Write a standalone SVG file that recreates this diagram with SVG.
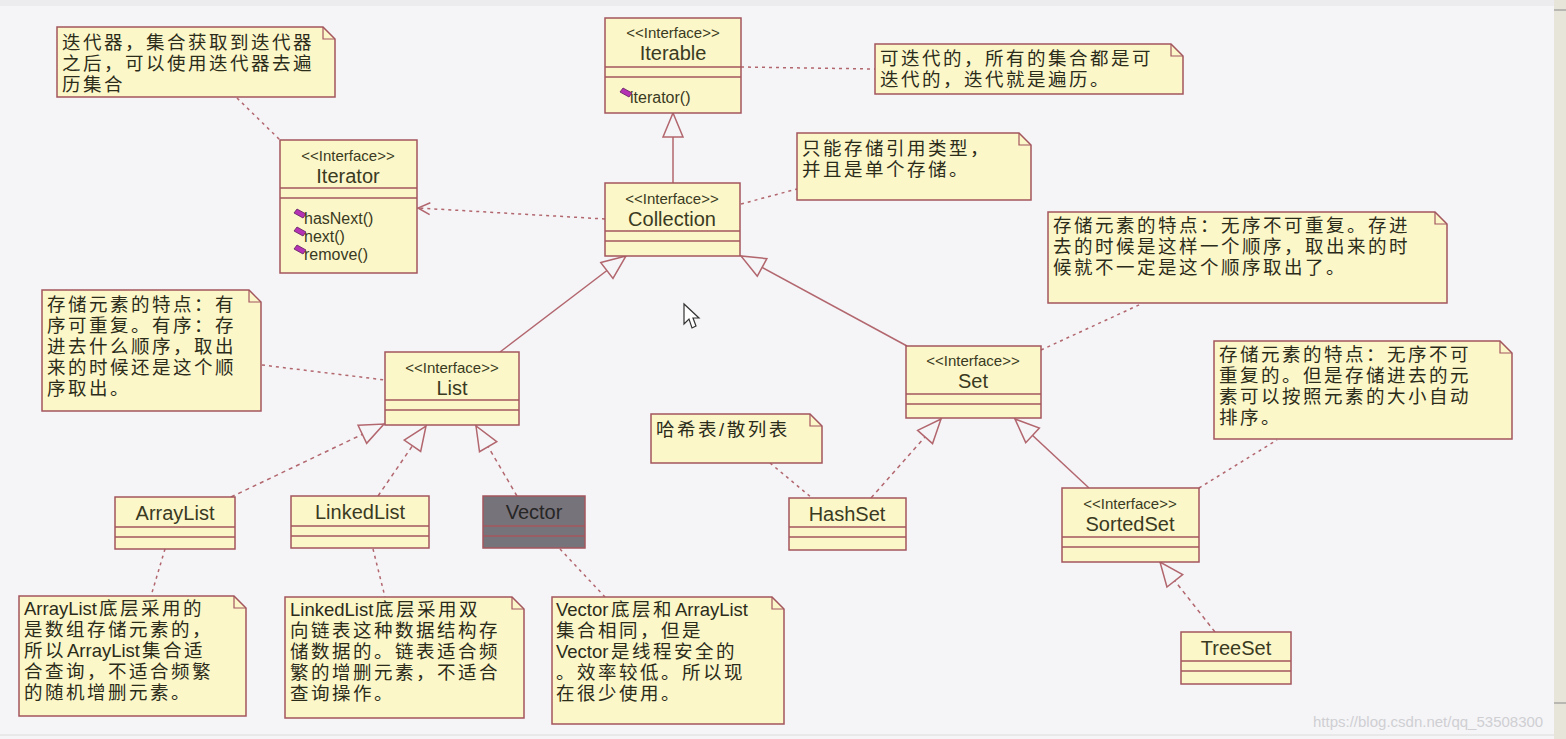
<svg xmlns="http://www.w3.org/2000/svg" width="1566" height="739" viewBox="0 0 1566 739">
<defs>
<style>
.box{fill:#fbf7c9;stroke:#a4565e;stroke-width:1.5}
.gray{fill:#77737a;stroke:#a4565e;stroke-width:1.5}
.sep{stroke:#a4565e;stroke-width:1.5;fill:none}
.note{fill:#fbf7c9;stroke:#a4565e;stroke-width:1.5}
.fold{fill:none;stroke:#a4565e;stroke-width:1.2}
.st{font-family:"Liberation Sans",Arial,sans-serif;font-size:15px;fill:#3a3a22;text-anchor:middle}
.nm{font-family:"Liberation Sans",Arial,sans-serif;font-size:20px;fill:#3a3a22;text-anchor:middle}
.mt{font-family:"Liberation Sans",Arial,sans-serif;font-size:16px;fill:#3a3a22}
.nt{font-family:"Liberation Sans","Noto Sans CJK SC",sans-serif;font-size:18.5px;letter-spacing:2.5px;fill:#2c2c1a}
.lt{font-family:"Liberation Sans","Noto Sans CJK SC",sans-serif;font-size:18.5px;letter-spacing:0;fill:#2c2c1a}
.solid{stroke:#b2666e;stroke-width:1.5;fill:none}
.dash{stroke:#b2666e;stroke-width:1.5;stroke-dasharray:4 4;fill:none}
.dot{stroke:#b2666e;stroke-width:1.5;stroke-dasharray:3 4;fill:none}
.icon{fill:#b532b5;stroke:#5e1e5e;stroke-width:0.8}
</style>
<marker id="tri" markerWidth="26" markerHeight="22" refX="25" refY="10" orient="auto" markerUnits="userSpaceOnUse" overflow="visible">
<path d="M1,0 L25,10 L1,20 Z" fill="#f5f5f7" stroke="#b2666e" stroke-width="1.5"/>
</marker>
<marker id="open" markerWidth="14" markerHeight="14" refX="13" refY="6" orient="auto" markerUnits="userSpaceOnUse" overflow="visible">
<path d="M1,0 L13,6 L1,12" fill="none" stroke="#b2666e" stroke-width="1.5"/>
</marker>
</defs>
<rect x="0" y="0" width="1566" height="739" fill="#f5f5f7"/>
<rect x="0" y="0" width="1566" height="6" fill="#ececee"/>
<rect x="1554" y="0" width="12" height="739" fill="#e7e4d9"/>
<line x1="1554" y1="10" x2="1566" y2="10" stroke="#8a8a8a" stroke-width="1"/>
<line x1="1554" y1="703" x2="1566" y2="703" stroke="#8a8a8a" stroke-width="1"/>
<line x1="0" y1="735" x2="1554" y2="735" stroke="#dcdcdc" stroke-width="1"/>

<g id="connectors">
<line class="solid" x1="673" y1="183" x2="673" y2="113" marker-end="url(#tri)"/>
<line class="dot" x1="605" y1="219" x2="418" y2="208" marker-end="url(#open)"/>
<line class="solid" x1="500" y1="352" x2="626" y2="256" marker-end="url(#tri)"/>
<line class="solid" x1="907" y1="346" x2="741" y2="256" marker-end="url(#tri)"/>
<line class="dash" x1="231" y1="497" x2="384" y2="424" marker-end="url(#tri)"/>
<line class="dash" x1="378" y1="496" x2="426" y2="426" marker-end="url(#tri)"/>
<line class="dash" x1="517" y1="496" x2="476" y2="426" marker-end="url(#tri)"/>
<line class="dash" x1="871" y1="498" x2="941" y2="419" marker-end="url(#tri)"/>
<line class="solid" x1="1089" y1="488" x2="1015" y2="419" marker-end="url(#tri)"/>
<line class="dash" x1="1215" y1="632" x2="1160" y2="562" marker-end="url(#tri)"/>
<line class="dot" x1="237" y1="98" x2="280" y2="140"/>
<line class="dot" x1="741" y1="67" x2="875" y2="69"/>
<line class="dot" x1="741" y1="204" x2="797" y2="189"/>
<line class="dot" x1="262" y1="365" x2="385" y2="380"/>
<line class="dot" x1="1041" y1="350" x2="1141" y2="304"/>
<line class="dot" x1="1199" y1="488" x2="1277" y2="440"/>
<line class="dot" x1="770" y1="463" x2="812" y2="498"/>
<line class="dot" x1="165" y1="549" x2="151" y2="596"/>
<line class="dot" x1="373" y1="549" x2="385" y2="597"/>
<line class="dot" x1="560" y1="549" x2="605" y2="597"/>
</g>

<g id="Iterable">
<rect class="box" x="605" y="18" width="136" height="95"/>
<line class="sep" x1="605" y1="67" x2="741" y2="67"/>
<line class="sep" x1="605" y1="77" x2="741" y2="77"/>
<text class="st" x="673" y="38">&lt;&lt;Interface&gt;&gt;</text>
<text class="nm" x="673" y="60">Iterable</text>
<polygon class="icon" points="620,92 623,88 632,93 629,97"/>
<text class="mt" x="630" y="103">iterator()</text>
</g>

<g id="Collection">
<rect class="box" x="605" y="183" width="135" height="73"/>
<line class="sep" x1="605" y1="231" x2="740" y2="231"/>
<line class="sep" x1="605" y1="241" x2="740" y2="241"/>
<text class="st" x="672" y="204">&lt;&lt;Interface&gt;&gt;</text>
<text class="nm" x="672" y="226">Collection</text>
</g>

<g id="Iterator">
<rect class="box" x="280" y="140" width="137" height="133"/>
<line class="sep" x1="280" y1="188" x2="417" y2="188"/>
<line class="sep" x1="280" y1="198" x2="417" y2="198"/>
<text class="st" x="348" y="161">&lt;&lt;Interface&gt;&gt;</text>
<text class="nm" x="348" y="183">Iterator</text>
<polygon class="icon" points="294,213 297,209 306,214 303,218"/>
<text class="mt" x="304" y="224">hasNext()</text>
<polygon class="icon" points="294,231 297,227 306,232 303,236"/>
<text class="mt" x="304" y="242">next()</text>
<polygon class="icon" points="294,249 297,245 306,250 303,254"/>
<text class="mt" x="304" y="260">remove()</text>
</g>

<g id="List">
<rect class="box" x="385" y="352" width="134" height="73"/>
<line class="sep" x1="385" y1="400" x2="519" y2="400"/>
<line class="sep" x1="385" y1="410" x2="519" y2="410"/>
<text class="st" x="452" y="373">&lt;&lt;Interface&gt;&gt;</text>
<text class="nm" x="452" y="395">List</text>
</g>

<g id="Set">
<rect class="box" x="906" y="346" width="135" height="72"/>
<line class="sep" x1="906" y1="394" x2="1041" y2="394"/>
<line class="sep" x1="906" y1="404" x2="1041" y2="404"/>
<text class="st" x="973" y="366">&lt;&lt;Interface&gt;&gt;</text>
<text class="nm" x="973" y="388">Set</text>
</g>

<g id="SortedSet">
<rect class="box" x="1062" y="488" width="137" height="74"/>
<line class="sep" x1="1062" y1="537" x2="1199" y2="537"/>
<line class="sep" x1="1062" y1="547" x2="1199" y2="547"/>
<text class="st" x="1130" y="509">&lt;&lt;Interface&gt;&gt;</text>
<text class="nm" x="1130" y="531">SortedSet</text>
</g>

<g id="ArrayList">
<rect class="box" x="115" y="497" width="120" height="52"/>
<line class="sep" x1="115" y1="527" x2="235" y2="527"/>
<line class="sep" x1="115" y1="537" x2="235" y2="537"/>
<text class="nm" x="175" y="520">ArrayList</text>
</g>

<g id="LinkedList">
<rect class="box" x="291" y="496" width="138" height="52"/>
<line class="sep" x1="291" y1="526" x2="429" y2="526"/>
<line class="sep" x1="291" y1="536" x2="429" y2="536"/>
<text class="nm" x="360" y="519">LinkedList</text>
</g>

<g id="Vector">
<rect class="gray" x="483" y="496" width="102" height="52"/>
<line class="sep" x1="483" y1="526" x2="585" y2="526"/>
<line class="sep" x1="483" y1="536" x2="585" y2="536"/>
<text class="nm" x="534" y="519" style="fill:#262626">Vector</text>
</g>

<g id="HashSet">
<rect class="box" x="789" y="498" width="117" height="52"/>
<line class="sep" x1="789" y1="527" x2="906" y2="527"/>
<line class="sep" x1="789" y1="537" x2="906" y2="537"/>
<text class="nm" x="847" y="521">HashSet</text>
</g>

<g id="TreeSet">
<rect class="box" x="1181" y="632" width="110" height="52"/>
<line class="sep" x1="1181" y1="661" x2="1291" y2="661"/>
<line class="sep" x1="1181" y1="671" x2="1291" y2="671"/>
<text class="nm" x="1236" y="655">TreeSet</text>
</g>

<g id="note-iterator">
<path class="note" d="M57,27 H323 L335,39 V97 H57 Z"/>
<path class="fold" d="M323,27 V39 H335"/>
<text class="nt" x="62" y="49">迭代器，集合获取到迭代器</text>
<text class="nt" x="62" y="70">之后，可以使用迭代器去遍</text>
<text class="nt" x="62" y="91">历集合</text>
</g>

<g id="note-iterable">
<path class="note" d="M875,44 H1171 L1183,56 V94 H875 Z"/>
<path class="fold" d="M1171,44 V56 H1183"/>
<text class="nt" x="880" y="65">可迭代的，所有的集合都是可</text>
<text class="nt" x="880" y="86">迭代的，迭代就是遍历。</text>
</g>

<g id="note-collection">
<path class="note" d="M797,133 H1019 L1031,145 V200 H797 Z"/>
<path class="fold" d="M1019,133 V145 H1031"/>
<text class="nt" x="802" y="155">只能存储引用类型，</text>
<text class="nt" x="802" y="176">并且是单个存储。</text>
</g>

<g id="note-set">
<path class="note" d="M1048,212 H1435 L1447,224 V303 H1048 Z"/>
<path class="fold" d="M1435,212 V224 H1447"/>
<text class="nt" x="1053" y="232">存储元素的特点：无序不可重复。存进</text>
<text class="nt" x="1053" y="253">去的时候是这样一个顺序，取出来的时</text>
<text class="nt" x="1053" y="274">候就不一定是这个顺序取出了。</text>
</g>

<g id="note-sortedset">
<path class="note" d="M1214,341 H1500 L1512,353 V439 H1214 Z"/>
<path class="fold" d="M1500,341 V353 H1512"/>
<text class="nt" x="1219" y="361">存储元素的特点：无序不可</text>
<text class="nt" x="1219" y="382">重复的。但是存储进去的元</text>
<text class="nt" x="1219" y="403">素可以按照元素的大小自动</text>
<text class="nt" x="1219" y="424">排序。</text>
</g>

<g id="note-list">
<path class="note" d="M42,290 H249 L261,302 V411 H42 Z"/>
<path class="fold" d="M249,290 V302 H261"/>
<text class="nt" x="47" y="311">存储元素的特点：有</text>
<text class="nt" x="47" y="332">序可重复。有序：存</text>
<text class="nt" x="47" y="353">进去什么顺序，取出</text>
<text class="nt" x="47" y="374">来的时候还是这个顺</text>
<text class="nt" x="47" y="395">序取出。</text>
</g>

<g id="note-hashset">
<path class="note" d="M651,414 H810 L822,426 V463 H651 Z"/>
<path class="fold" d="M810,414 V426 H822"/>
<text class="nt" x="656" y="436">哈希表/散列表</text>
</g>

<g id="note-arraylist">
<path class="note" d="M19,596 H234 L246,608 V716 H19 Z"/>
<path class="fold" d="M234,596 V608 H246"/>
<text class="lt" x="24" y="615">ArrayList</text>
<text class="nt" x="99" y="615">底层采用的</text>
<text class="nt" x="24" y="636">是数组存储元素的，</text>
<text class="nt" x="24" y="657">所以</text>
<text class="lt" x="67" y="657">ArrayList</text>
<text class="nt" x="142" y="657">集合适</text>
<text class="nt" x="24" y="678">合查询，不适合频繁</text>
<text class="nt" x="24" y="699">的随机增删元素。</text>
</g>

<g id="note-linkedlist">
<path class="note" d="M285,597 H512 L524,609 V718 H285 Z"/>
<path class="fold" d="M512,597 V609 H524"/>
<text class="lt" x="290" y="616">LinkedList</text>
<text class="nt" x="375" y="616">底层采用双</text>
<text class="nt" x="290" y="637">向链表这种数据结构存</text>
<text class="nt" x="290" y="658">储数据的。链表适合频</text>
<text class="nt" x="290" y="679">繁的增删元素，不适合</text>
<text class="nt" x="290" y="700">查询操作。</text>
</g>

<g id="note-vector">
<path class="note" d="M552,597 H772 L784,609 V724 H552 Z"/>
<path class="fold" d="M772,597 V609 H784"/>
<text class="lt" x="556" y="616">Vector</text>
<text class="nt" x="611" y="616">底层和</text>
<text class="lt" x="675" y="616">ArrayList</text>
<text class="nt" x="556" y="637">集合相同，但是</text>
<text class="lt" x="556" y="658">Vector</text>
<text class="nt" x="611" y="658">是线程安全的</text>
<text class="nt" x="556" y="679">。效率较低。所以现</text>
<text class="nt" x="556" y="700">在很少使用。</text>
</g>

<path d="M684,304 L684,324 L689,319 L692,328 L696,326 L693,318 L699,318 Z" fill="#ffffff" stroke="#333333" stroke-width="1.2"/>
<text x="1313" y="727" font-family="Liberation Sans, Arial, sans-serif" font-size="15" fill="#cfcfd3">https://blog.csdn.net/qq_53508300</text>
</svg>
